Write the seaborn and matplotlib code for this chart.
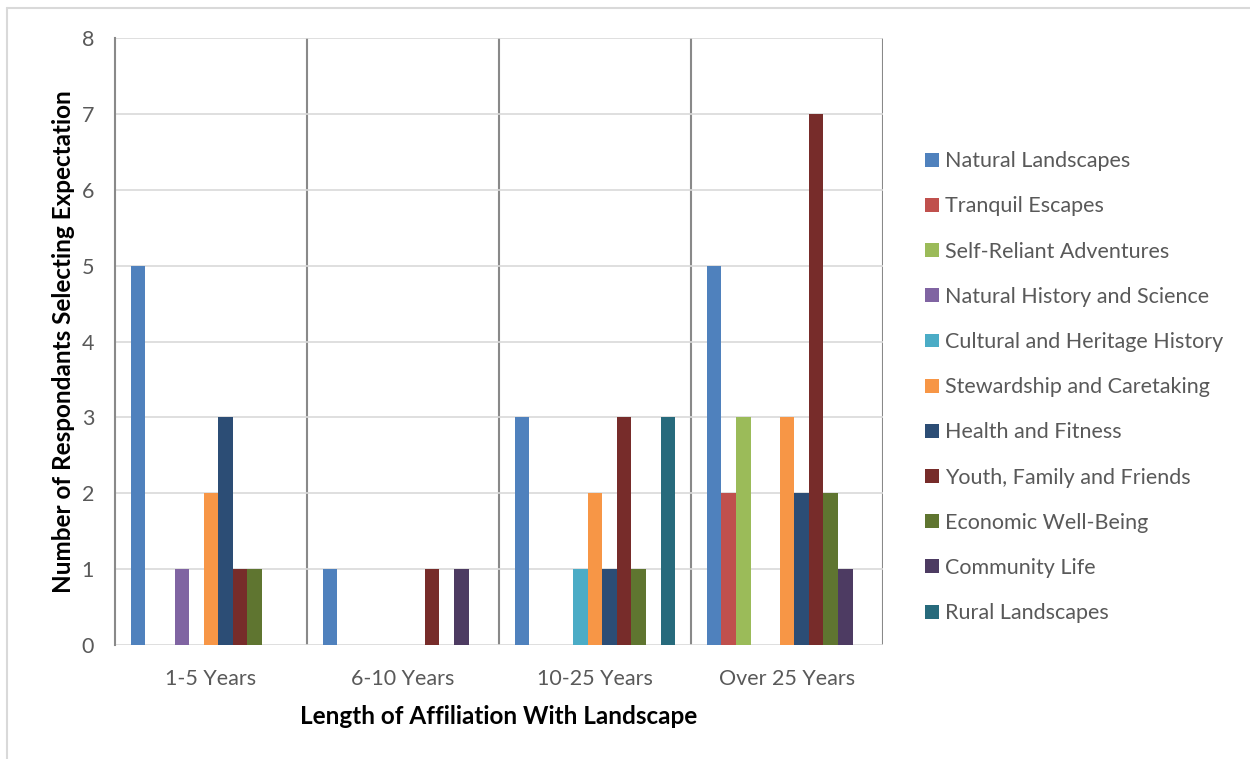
import matplotlib
matplotlib.use("Agg")
import matplotlib.pyplot as plt
import numpy as np
import pandas as pd
import seaborn as sns
from matplotlib.lines import Line2D

# Categories and series
groups = ["1-5 Years", "6-10 Years", "10-25 Years", "Over 25 Years"]
expectations = [
    "Natural Landscapes",
    "Tranquil Escapes",
    "Self-Reliant Adventures",
    "Natural History and Science",
    "Cultural and Heritage History",
    "Stewardship and Caretaking",
    "Health and Fitness",
    "Youth, Family and Friends",
    "Economic Well-Being",
    "Community Life",
    "Rural Landscapes",
]

# Counts per expectation, one value per affiliation group
natural_landscapes = [5, 1, 3, 5]
tranquil_escapes = [0, 0, 0, 2]
self_reliant = [0, 0, 0, 3]
natural_history = [1, 0, 0, 0]
cultural_heritage = [0, 0, 1, 0]
stewardship = [2, 0, 2, 3]
health_fitness = [3, 0, 1, 2]
youth_family = [1, 1, 3, 7]
economic = [1, 0, 1, 2]
community = [0, 1, 0, 1]
rural_landscapes = [0, 0, 3, 0]

series = [natural_landscapes, tranquil_escapes, self_reliant, natural_history,
          cultural_heritage, stewardship, health_fitness, youth_family,
          economic, community, rural_landscapes]

colors = ["#4F81BD", "#C0504D", "#9BBB59", "#8064A2", "#4BACC6", "#F79646",
          "#2C4D75", "#772C2A", "#5F7530", "#4D3B62", "#276A7C"]

rows = []
for name, vals in zip(expectations, series):
    for g, v in zip(groups, vals):
        rows.append({"group": g, "expectation": name, "count": v})
df = pd.DataFrame(rows)

sns.set_theme(style="white")
plt.rcParams["font.family"] = ["Lato", "DejaVu Sans"]

fig = plt.figure(figsize=(12.5, 7.59), dpi=100)
ax = fig.add_axes([0.092, 0.1502, 0.6144, 0.7997])

sns.barplot(data=df, x="group", y="count", hue="expectation",
            order=groups, hue_order=expectations, palette=colors,
            width=0.835, saturation=1, linewidth=0, ax=ax, legend=True)

ax.set_xlim(-0.5, 3.5)
ax.set_ylim(0, 8)
ax.set_yticks(range(0, 9))
ax.yaxis.grid(True, color="#d9d9d9", linewidth=1.2)
ax.set_axisbelow(True)

for side in ["top", "right", "bottom"]:
    ax.spines[side].set_visible(False)
ax.spines["left"].set_color("#898989")
ax.spines["left"].set_linewidth(1.5)

# Category separators
for xpos in [0.5, 1.5, 2.5, 3.5]:
    ax.axvline(xpos, color="#898989", linewidth=1.5, zorder=0.5)

ax.tick_params(axis="both", length=0, labelsize=15.5, labelcolor="#595959")
ax.tick_params(axis="y", pad=15)
ax.tick_params(axis="x", pad=17.5)

ax.set_xlabel("Length of Affiliation With Landscape", fontsize=17.5,
              fontweight="bold", color="black", labelpad=11)
ax.set_ylabel("Number of Respondants Selecting Expectation", fontsize=17.5,
              fontweight="bold", color="black", labelpad=5)

handles, labels = ax.get_legend_handles_labels()
ax.legend(handles, labels, loc="upper left", bbox_to_anchor=(0.7335, 0.812),
          bbox_transform=fig.transFigure, frameon=False, fontsize=15.5,
          labelcolor="#595959", handlelength=0.62, handleheight=0.62,
          handletextpad=0.28, labelspacing=1.17, borderaxespad=0)

# Light outer chart border (top and left edges)
fig.add_artist(Line2D([7 / 1250, 1.0], [1 - 8 / 759, 1 - 8 / 759],
                      transform=fig.transFigure, color="#d9d9d9", linewidth=1.5))
fig.add_artist(Line2D([7 / 1250, 7 / 1250], [0.0, 1 - 8 / 759],
                      transform=fig.transFigure, color="#d9d9d9", linewidth=1.5))

fig.savefig("out.png", dpi=100, facecolor="white")
